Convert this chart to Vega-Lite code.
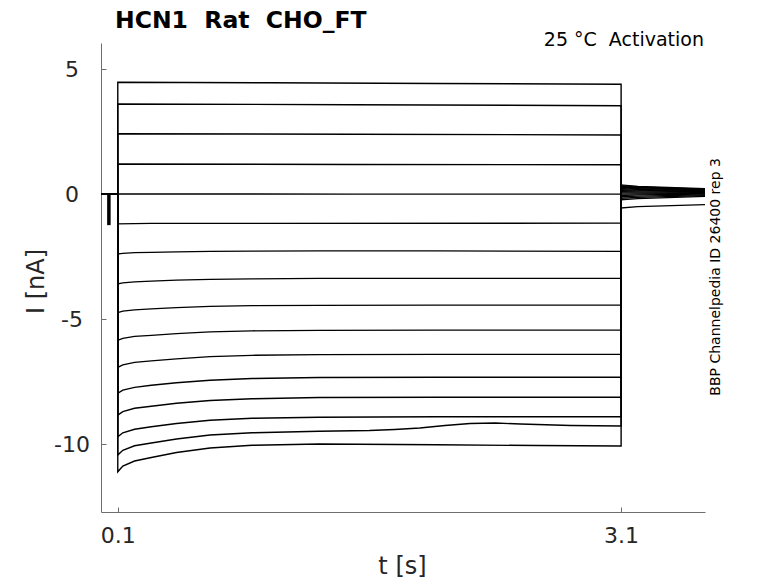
{
  "$schema": "https://vega.github.io/schema/vega-lite/v6.json",
  "width": 604,
  "height": 469,
  "autosize": "none",
  "padding": {"left": 101, "top": 43, "right": 73, "bottom": 71},
  "background": "white",
  "config": {"view": {"stroke": null}, "font": "DejaVu Sans"},
  "title": {
    "text": "HCN1\u00a0 Rat\u00a0 CHO_FT",
    "anchor": "start",
    "frame": "group",
    "fontSize": 23.5,
    "fontWeight": "bold",
    "font": "DejaVu Sans",
    "color": "black",
    "dx": 14,
    "offset": -1
  },
  "datasets": {
    "traces": [
      {"s":1,"i":0,"t":0,"v":0},{"s":1,"i":1,"t":0.1,"v":0},{"s":1,"i":2,"t":0.1,"v":4.48},{"s":1,"i":3,"t":1.0,"v":4.46},{"s":1,"i":4,"t":2.0,"v":4.43},{"s":1,"i":5,"t":3.1,"v":4.4},{"s":1,"i":6,"t":3.1,"v":-0.55},{"s":1,"i":7,"t":3.2,"v":-0.5},{"s":1,"i":8,"t":3.6,"v":-0.42},
      {"s":2,"i":0,"t":0,"v":0},{"s":2,"i":1,"t":0.1,"v":0},{"s":2,"i":2,"t":0.1,"v":3.61},{"s":2,"i":3,"t":1.5,"v":3.58},{"s":2,"i":4,"t":3.1,"v":3.54},{"s":2,"i":5,"t":3.1,"v":-0.22},{"s":2,"i":6,"t":3.2,"v":-0.18},{"s":2,"i":7,"t":3.6,"v":-0.09},
      {"s":3,"i":0,"t":0,"v":0},{"s":3,"i":1,"t":0.1,"v":0},{"s":3,"i":2,"t":0.1,"v":2.42},{"s":3,"i":3,"t":1.5,"v":2.4},{"s":3,"i":4,"t":3.1,"v":2.37},{"s":3,"i":5,"t":3.1,"v":-0.16},{"s":3,"i":6,"t":3.2,"v":-0.13},{"s":3,"i":7,"t":3.6,"v":-0.06},
      {"s":4,"i":0,"t":0,"v":0},{"s":4,"i":1,"t":0.1,"v":0},{"s":4,"i":2,"t":0.1,"v":1.21},{"s":4,"i":3,"t":1.5,"v":1.19},{"s":4,"i":4,"t":3.1,"v":1.18},{"s":4,"i":5,"t":3.1,"v":-0.1},{"s":4,"i":6,"t":3.2,"v":-0.08},{"s":4,"i":7,"t":3.6,"v":-0.03},
      {"s":5,"i":0,"t":0,"v":0},{"s":5,"i":1,"t":0.1,"v":0},{"s":5,"i":2,"t":0.1,"v":0.01},{"s":5,"i":3,"t":1.5,"v":0},{"s":5,"i":4,"t":3.1,"v":0},{"s":5,"i":5,"t":3.1,"v":-0.05},{"s":5,"i":6,"t":3.2,"v":-0.03},{"s":5,"i":7,"t":3.6,"v":0},
      {"s":6,"i":0,"t":0,"v":0},{"s":6,"i":1,"t":0.1,"v":0},{"s":6,"i":2,"t":0.1,"v":-1.19},{"s":6,"i":3,"t":0.3,"v":-1.17},{"s":6,"i":4,"t":3.1,"v":-1.16},{"s":6,"i":5,"t":3.1,"v":0},{"s":6,"i":6,"t":3.2,"v":0.01},{"s":6,"i":7,"t":3.6,"v":0.03},
      {"s":7,"i":0,"t":0,"v":0},{"s":7,"i":1,"t":0.1,"v":0},{"s":7,"i":2,"t":0.1,"v":-2.39},{"s":7,"i":3,"t":0.13,"v":-2.37},{"s":7,"i":4,"t":0.2,"v":-2.34},{"s":7,"i":5,"t":0.3,"v":-2.33},{"s":7,"i":6,"t":0.45,"v":-2.31},{"s":7,"i":7,"t":0.65,"v":-2.29},{"s":7,"i":8,"t":0.9,"v":-2.28},{"s":7,"i":9,"t":1.3,"v":-2.27},{"s":7,"i":10,"t":2.0,"v":-2.27},{"s":7,"i":11,"t":3.1,"v":-2.29},{"s":7,"i":12,"t":3.1,"v":0.05},{"s":7,"i":13,"t":3.2,"v":0.05},{"s":7,"i":14,"t":3.6,"v":0.05},
      {"s":8,"i":0,"t":0,"v":0},{"s":8,"i":1,"t":0.1,"v":0},{"s":8,"i":2,"t":0.1,"v":-3.59},{"s":8,"i":3,"t":0.13,"v":-3.55},{"s":8,"i":4,"t":0.2,"v":-3.51},{"s":8,"i":5,"t":0.3,"v":-3.48},{"s":8,"i":6,"t":0.45,"v":-3.44},{"s":8,"i":7,"t":0.65,"v":-3.41},{"s":8,"i":8,"t":0.9,"v":-3.39},{"s":8,"i":9,"t":1.3,"v":-3.37},{"s":8,"i":10,"t":2.0,"v":-3.37},{"s":8,"i":11,"t":3.1,"v":-3.37},{"s":8,"i":12,"t":3.1,"v":0.1},{"s":8,"i":13,"t":3.2,"v":0.09},{"s":8,"i":14,"t":3.6,"v":0.07},
      {"s":9,"i":0,"t":0,"v":0},{"s":9,"i":1,"t":0.1,"v":0},{"s":9,"i":2,"t":0.1,"v":-4.74},{"s":9,"i":3,"t":0.13,"v":-4.68},{"s":9,"i":4,"t":0.2,"v":-4.63},{"s":9,"i":5,"t":0.3,"v":-4.59},{"s":9,"i":6,"t":0.45,"v":-4.54},{"s":9,"i":7,"t":0.65,"v":-4.49},{"s":9,"i":8,"t":0.9,"v":-4.46},{"s":9,"i":9,"t":1.3,"v":-4.45},{"s":9,"i":10,"t":2.0,"v":-4.44},{"s":9,"i":11,"t":3.1,"v":-4.44},{"s":9,"i":12,"t":3.1,"v":0.14},{"s":9,"i":13,"t":3.2,"v":0.13},{"s":9,"i":14,"t":3.6,"v":0.09},
      {"s":10,"i":0,"t":0,"v":0},{"s":10,"i":1,"t":0.1,"v":0},{"s":10,"i":2,"t":0.1,"v":-5.85},{"s":10,"i":3,"t":0.13,"v":-5.77},{"s":10,"i":4,"t":0.2,"v":-5.69},{"s":10,"i":5,"t":0.3,"v":-5.65},{"s":10,"i":6,"t":0.45,"v":-5.58},{"s":10,"i":7,"t":0.65,"v":-5.51},{"s":10,"i":8,"t":0.9,"v":-5.47},{"s":10,"i":9,"t":1.3,"v":-5.45},{"s":10,"i":10,"t":2.0,"v":-5.44},{"s":10,"i":11,"t":3.1,"v":-5.44},{"s":10,"i":12,"t":3.1,"v":0.18},{"s":10,"i":13,"t":3.2,"v":0.16},{"s":10,"i":14,"t":3.6,"v":0.11},
      {"s":11,"i":0,"t":0,"v":0},{"s":11,"i":1,"t":0.1,"v":0},{"s":11,"i":2,"t":0.1,"v":-6.93},{"s":11,"i":3,"t":0.13,"v":-6.83},{"s":11,"i":4,"t":0.2,"v":-6.73},{"s":11,"i":5,"t":0.3,"v":-6.67},{"s":11,"i":6,"t":0.45,"v":-6.59},{"s":11,"i":7,"t":0.65,"v":-6.5},{"s":11,"i":8,"t":0.9,"v":-6.45},{"s":11,"i":9,"t":1.3,"v":-6.42},{"s":11,"i":10,"t":2.0,"v":-6.41},{"s":11,"i":11,"t":3.1,"v":-6.41},{"s":11,"i":12,"t":3.1,"v":0.22},{"s":11,"i":13,"t":3.2,"v":0.19},{"s":11,"i":14,"t":3.6,"v":0.13},
      {"s":12,"i":0,"t":0,"v":0},{"s":12,"i":1,"t":0.1,"v":0},{"s":12,"i":2,"t":0.1,"v":-7.97},{"s":12,"i":3,"t":0.13,"v":-7.84},{"s":12,"i":4,"t":0.2,"v":-7.73},{"s":12,"i":5,"t":0.3,"v":-7.65},{"s":12,"i":6,"t":0.45,"v":-7.55},{"s":12,"i":7,"t":0.65,"v":-7.45},{"s":12,"i":8,"t":0.9,"v":-7.38},{"s":12,"i":9,"t":1.3,"v":-7.34},{"s":12,"i":10,"t":2.0,"v":-7.33},{"s":12,"i":11,"t":3.1,"v":-7.33},{"s":12,"i":12,"t":3.1,"v":0.25},{"s":12,"i":13,"t":3.2,"v":0.22},{"s":12,"i":14,"t":3.6,"v":0.15},
      {"s":13,"i":0,"t":0,"v":0},{"s":13,"i":1,"t":0.1,"v":0},{"s":13,"i":2,"t":0.1,"v":-8.84},{"s":13,"i":3,"t":0.13,"v":-8.7},{"s":13,"i":4,"t":0.2,"v":-8.57},{"s":13,"i":5,"t":0.3,"v":-8.49},{"s":13,"i":6,"t":0.45,"v":-8.37},{"s":13,"i":7,"t":0.65,"v":-8.26},{"s":13,"i":8,"t":0.9,"v":-8.19},{"s":13,"i":9,"t":1.3,"v":-8.14},{"s":13,"i":10,"t":2.0,"v":-8.13},{"s":13,"i":11,"t":3.1,"v":-8.13},{"s":13,"i":12,"t":3.1,"v":0.28},{"s":13,"i":13,"t":3.2,"v":0.25},{"s":13,"i":14,"t":3.6,"v":0.17},
      {"s":14,"i":0,"t":0,"v":0},{"s":14,"i":1,"t":0.1,"v":0},{"s":14,"i":2,"t":0.1,"v":-9.71},{"s":14,"i":3,"t":0.13,"v":-9.55},{"s":14,"i":4,"t":0.2,"v":-9.41},{"s":14,"i":5,"t":0.3,"v":-9.31},{"s":14,"i":6,"t":0.45,"v":-9.18},{"s":14,"i":7,"t":0.65,"v":-9.05},{"s":14,"i":8,"t":0.9,"v":-8.97},{"s":14,"i":9,"t":1.3,"v":-8.93},{"s":14,"i":10,"t":2.0,"v":-8.91},{"s":14,"i":11,"t":3.1,"v":-8.91},{"s":14,"i":12,"t":3.1,"v":0.31},{"s":14,"i":13,"t":3.2,"v":0.27},{"s":14,"i":14,"t":3.6,"v":0.19},
      {"s":15,"i":0,"t":0,"v":0},{"s":15,"i":1,"t":0.1,"v":0},{"s":15,"i":2,"t":0.1,"v":-10.44},{"s":15,"i":3,"t":0.13,"v":-10.25},{"s":15,"i":4,"t":0.2,"v":-10.07},{"s":15,"i":5,"t":0.3,"v":-9.96},{"s":15,"i":6,"t":0.45,"v":-9.8},{"s":15,"i":7,"t":0.65,"v":-9.64},{"s":15,"i":8,"t":0.9,"v":-9.55},{"s":15,"i":9,"t":1.3,"v":-9.49},{"s":15,"i":10,"t":1.6,"v":-9.46},{"s":15,"i":11,"t":1.75,"v":-9.42},{"s":15,"i":12,"t":1.9,"v":-9.36},{"s":15,"i":13,"t":2.05,"v":-9.26},{"s":15,"i":14,"t":2.2,"v":-9.18},{"s":15,"i":15,"t":2.35,"v":-9.16},{"s":15,"i":16,"t":2.5,"v":-9.2},{"s":15,"i":17,"t":2.8,"v":-9.26},{"s":15,"i":18,"t":3.1,"v":-9.28},{"s":15,"i":19,"t":3.1,"v":0.34},{"s":15,"i":20,"t":3.2,"v":0.29},{"s":15,"i":21,"t":3.6,"v":0.2},
      {"s":16,"i":0,"t":0,"v":0},{"s":16,"i":1,"t":0.1,"v":0},{"s":16,"i":2,"t":0.1,"v":-11.11},{"s":16,"i":3,"t":0.13,"v":-10.88},{"s":16,"i":4,"t":0.2,"v":-10.68},{"s":16,"i":5,"t":0.3,"v":-10.54},{"s":16,"i":6,"t":0.45,"v":-10.34},{"s":16,"i":7,"t":0.65,"v":-10.16},{"s":16,"i":8,"t":0.9,"v":-10.05},{"s":16,"i":9,"t":1.3,"v":-10.0},{"s":16,"i":10,"t":2.0,"v":-10.03},{"s":16,"i":11,"t":2.6,"v":-10.06},{"s":16,"i":12,"t":3.1,"v":-10.08},{"s":16,"i":13,"t":3.1,"v":0.37},{"s":16,"i":14,"t":3.2,"v":0.31},{"s":16,"i":15,"t":3.6,"v":0.22}
    ],
    "pulse": [
      {"i":0,"t":0.047,"v":0},{"i":1,"t":0.047,"v":-1.24}
    ],
    "notes": [
      {"label": "25 °C\u00a0 Activation"}
    ],
    "source": [
      {"label": "BBP Channelpedia ID 26400 rep 3"}
    ]
  },
  "layer": [
    {
      "data": {"name": "traces"},
      "mark": {"type": "line", "color": "black", "strokeWidth": 1.4},
      "encoding": {
        "x": {
          "field": "t", "type": "quantitative",
          "scale": {"domain": [0, 3.6], "nice": false, "zero": false},
          "axis": {
            "values": [0.1, 3.1], "format": ".1f", "grid": false,
            "domainColor": "#6e6e6e", "tickColor": "#6e6e6e", "tickSize": -5,
            "labelFontSize": 22, "labelColor": "#262626", "labelFont": "DejaVu Sans",
            "labelPadding": 18, "labelFlush": false,
            "title": "t [s]", "titleFontSize": 24, "titleFontWeight": "normal",
            "titleColor": "#262626", "titleFont": "DejaVu Sans",
            "titleX": 301, "titleY": 61, "titleBaseline": "alphabetic", "titleAlign": "center"
          }
        },
        "y": {
          "field": "v", "type": "quantitative",
          "scale": {"domain": [-12.72, 6.05], "nice": false, "zero": false},
          "axis": {
            "values": [-10, -5, 0, 5], "grid": false,
            "labelExpr": "datum.value < 0 ? '-' + abs(datum.value) : '' + datum.value",
            "domainColor": "#6e6e6e", "tickColor": "#6e6e6e", "tickSize": -5,
            "labelFontSize": 22, "labelColor": "#262626", "labelFont": "DejaVu Sans",
            "labelAlign": "center", "labelPadding": 34.5,
            "title": "I [nA]", "titleFontSize": 24, "titleFontWeight": "normal",
            "titleColor": "#262626", "titleFont": "DejaVu Sans",
            "titleAngle": 270, "titleX": -57.5, "titleY": 238,
            "titleBaseline": "alphabetic", "titleAlign": "center"
          }
        },
        "detail": {"field": "s", "type": "nominal"},
        "order": {"field": "i", "type": "quantitative"}
      }
    },
    {
      "data": {"name": "pulse"},
      "mark": {"type": "line", "color": "black", "strokeWidth": 3.5},
      "encoding": {
        "x": {"field": "t", "type": "quantitative"},
        "y": {"field": "v", "type": "quantitative"},
        "order": {"field": "i", "type": "quantitative"}
      }
    },
    {
      "data": {"name": "notes"},
      "mark": {"type": "text", "align": "right", "baseline": "alphabetic", "fontSize": 19, "font": "DejaVu Sans", "color": "black"},
      "encoding": {
        "text": {"field": "label", "type": "nominal"},
        "x": {"datum": 3.594, "type": "quantitative"},
        "y": {"datum": 5.91, "type": "quantitative"}
      }
    },
    {
      "data": {"name": "source"},
      "mark": {"type": "text", "angle": 270, "align": "center", "baseline": "alphabetic", "fontSize": 14, "font": "DejaVu Sans", "color": "black"},
      "encoding": {
        "text": {"field": "label", "type": "nominal"},
        "x": {"datum": 3.689, "type": "quantitative"},
        "y": {"datum": -3.31, "type": "quantitative"}
      }
    }
  ]
}
